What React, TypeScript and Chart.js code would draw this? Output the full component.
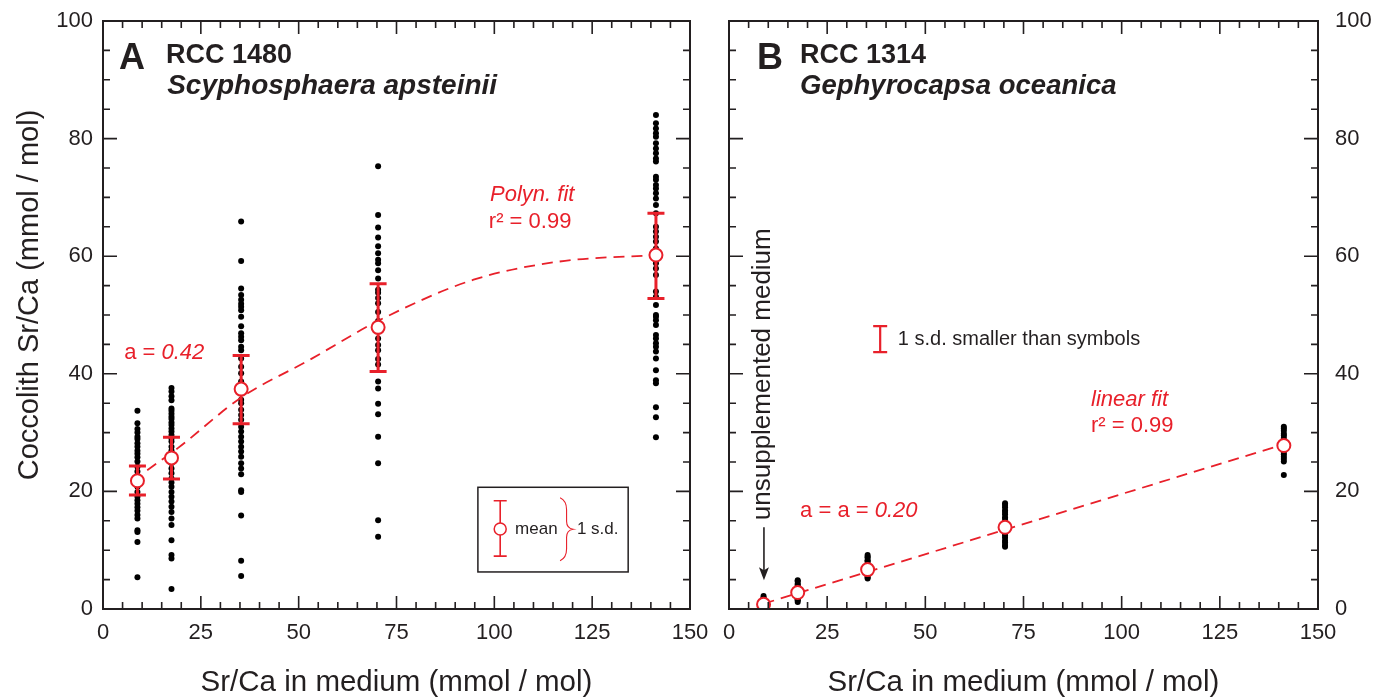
import React, { useEffect, useRef } from "react";
import { Chart, registerables } from "chart.js";

Chart.register(...registerables);

const FONT = '"Liberation Sans", Arial, Helvetica, sans-serif';
const RED = "#e8202a";
const INK = "#231f20";

// ---------- data ----------
const MEDIUM_SRCA = [8.8, 17.5, 35.3, 70.3, 141.3];

const X_TICKS = [0, 25, 50, 75, 100, 125, 150];
const Y_TICKS = [0, 20, 40, 60, 80, 100];
const X_MINOR_STEP = 5;
const Y_MINOR_STEP = 5;

// Panel A – RCC 1480 Scyphosphaera apsteinii
const A_COL1 = [33.7, 31.6, 30.6, 30.0, 29.3, 28.9, 28.2, 27.6, 26.9, 26.4, 25.8, 25.1, 24.2, 23.4, 22.6, 21.7, 20.8, 19.9, 19.1, 18.5, 17.9, 17.3, 16.7, 16.0, 15.4, 13.4, 13.1, 11.4, 5.4];
const A_COL2 = [37.6, 37.0, 36.2, 35.5, 34.1, 33.7, 33.2, 32.7, 32.3, 31.7, 31.3, 30.7, 30.2, 29.6, 29.0, 28.5, 27.6, 26.9, 26.2, 25.5, 24.8, 23.9, 23.1, 22.2, 21.5, 20.8, 19.9, 19.1, 18.3, 17.4, 16.5, 15.4, 14.3, 11.7, 9.2, 8.6, 3.4];
const A_COL3 = [65.9, 59.2, 54.5, 53.4, 52.6, 51.9, 51.4, 50.8, 49.7, 48.1, 46.9, 46.3, 45.7, 44.6, 44.0, 42.6, 41.2, 40.1, 38.7, 37.3, 35.6, 35.0, 33.9, 33.0, 32.2, 31.0, 30.2, 29.3, 28.5, 27.6, 26.8, 25.9, 24.8, 23.9, 22.9, 20.2, 19.9, 15.9, 8.2, 5.6];
const A_COL4 = [75.3, 67.0, 64.9, 63.2, 61.7, 60.5, 59.4, 58.8, 57.6, 56.2, 54.3, 53.8, 52.9, 52.0, 50.5, 49.0, 48.0, 46.0, 44.9, 44.0, 42.5, 41.6, 38.7, 37.5, 34.9, 33.1, 29.3, 24.8, 15.1, 12.3];
const A_COL5 = [84.0, 82.6, 81.7, 80.9, 80.3, 79.2, 78.3, 77.5, 76.6, 76.1, 73.5, 73.0, 72.1, 71.5, 70.7, 69.8, 68.7, 67.3, 65.0, 64.2, 63.3, 62.5, 61.3, 60.2, 58.8, 57.9, 56.8, 54.0, 53.1, 51.7, 50.0, 49.7, 49.1, 48.3, 46.6, 46.0, 45.2, 44.6, 43.8, 42.6, 40.6, 38.9, 38.4, 34.3, 32.6, 29.2];
const A_MEANS = [21.8, 25.7, 37.4, 47.9, 60.2];
const A_SD_LOW = [19.4, 22.1, 31.5, 40.4, 52.8];
const A_SD_HIGH = [24.3, 29.2, 43.1, 55.3, 67.3];
const A_FIT_X = [11.3, 19.2, 35.4, 52.6, 70.6, 94.7, 116.7, 141.3];
const A_FIT_Y = [23.6, 27.4, 36.0, 42.3, 49.1, 56.0, 59.1, 60.2];

// Panel B – RCC 1314 Gephyrocapsa oceanica
const B_COL1 = [2.2, 1.9, 1.8, 1.6, 1.4, 1.3, 1.1, 1.0, 0.9, 0.7, 0.6, 0.5, 0.4, 0.3, 0.2];
const B_COL2 = [4.9, 4.7, 4.3, 4.1, 3.8, 3.7, 3.4, 3.2, 3.1, 2.8, 2.6, 2.5, 2.2, 2.1, 1.8, 1.6, 1.5, 1.2];
const B_COL3 = [9.2, 8.9, 8.7, 8.3, 8.1, 7.7, 7.5, 7.1, 6.9, 6.6, 6.3, 5.9, 5.7, 5.4, 5.2];
const B_COL4 = [18.0, 17.7, 17.3, 16.8, 16.5, 16.1, 15.6, 15.3, 14.8, 14.5, 14.1, 13.6, 13.3, 12.8, 12.5, 12.1, 11.6, 11.3, 10.9, 10.6];
const B_COL5 = [31.0, 30.7, 30.3, 29.8, 29.5, 29.1, 28.6, 28.3, 27.9, 27.5, 27.1, 26.7, 26.3, 25.9, 25.5, 25.1, 22.8];
const B_MEANS = [0.8, 2.8, 6.7, 13.9, 27.8];
const B_FIT_X = [8.8, 141.3];
const B_FIT_Y = [0.9, 28.0];

// ---------- helpers ----------
type Pt = { x: number; y: number };
const cols = (columns: number[][]): Pt[] =>
  columns.flatMap((c, i) => c.map((y) => ({ x: MEDIUM_SRCA[i], y })));
const pairs = (xs: number[], ys: number[]): Pt[] => xs.map((x, i) => ({ x, y: ys[i] }));

function P(chart: any, vx: number, vy: number) {
  return { x: chart.scales.x.getPixelForValue(vx), y: chart.scales.y.getPixelForValue(vy) };
}

function txt(ctx: CanvasRenderingContext2D, s: string, x: number, y: number, font: string, color: string, align: CanvasTextAlign = "left", base: CanvasTextBaseline = "alphabetic") {
  ctx.font = font;
  ctx.fillStyle = color;
  ctx.textAlign = align;
  ctx.textBaseline = base;
  ctx.fillText(s, x, y);
}

function rich(ctx: CanvasRenderingContext2D, parts: [string, string][], x: number, y: number, color: string, base: CanvasTextBaseline = "middle") {
  let cx = x;
  for (const [s, f] of parts) {
    txt(ctx, s, cx, y, f, color, "left", base);
    cx += ctx.measureText(s).width;
  }
}

function errorBar(ctx: CanvasRenderingContext2D, x: number, y1: number, y2: number, half: number, lw: number) {
  ctx.strokeStyle = RED;
  ctx.lineWidth = lw;
  ctx.beginPath();
  ctx.moveTo(x, y1);
  ctx.lineTo(x, y2);
  ctx.moveTo(x - half, y1);
  ctx.lineTo(x + half, y1);
  ctx.moveTo(x - half, y2);
  ctx.lineTo(x + half, y2);
  ctx.stroke();
}

const framePlugin = {
  id: "frame",
  afterDraw(chart: any) {
    const { ctx, chartArea: a } = chart;
    const xs = chart.scales.x;
    const ys = chart.scales.y;
    ctx.save();
    ctx.strokeStyle = INK;
    ctx.lineWidth = 1.6;
    ctx.beginPath();
    for (let v = X_TICKS[0]; v <= X_TICKS[X_TICKS.length - 1]; v += X_MINOR_STEP) {
      const major = X_TICKS.includes(v);
      const len = major ? 13 : 7;
      const px = xs.getPixelForValue(v);
      ctx.moveTo(px, a.bottom);
      ctx.lineTo(px, a.bottom - len);
      ctx.moveTo(px, a.top);
      ctx.lineTo(px, a.top + len);
    }
    for (let v = Y_TICKS[0]; v <= Y_TICKS[Y_TICKS.length - 1]; v += Y_MINOR_STEP) {
      const major = Y_TICKS.includes(v);
      const len = major ? 14 : 7;
      const py = ys.getPixelForValue(v);
      ctx.moveTo(a.left, py);
      ctx.lineTo(a.left + len, py);
      ctx.moveTo(a.right, py);
      ctx.lineTo(a.right - len, py);
    }
    ctx.stroke();
    ctx.lineWidth = 2;
    ctx.strokeRect(a.left, a.top, a.right - a.left, a.bottom - a.top);
    ctx.restore();
  },
};

const errorBarPlugin = (low: number[] | null, high: number[] | null) => ({
  id: "errbars",
  afterDatasetDraw(chart: any, args: any) {
    if (args.index !== 1 || !low || !high) return;
    const ctx = chart.ctx;
    ctx.save();
    MEDIUM_SRCA.forEach((x, i) => {
      const p1 = P(chart, x, high[i]);
      const p2 = P(chart, x, low[i]);
      errorBar(ctx, p1.x, p1.y, p2.y, 8.5, 3);
    });
    ctx.restore();
  },
});

const R = (s: number) => `${s}px ${FONT}`;
const I = (s: number) => `italic ${s}px ${FONT}`;
const B = (s: number) => `bold ${s}px ${FONT}`;
const BI = (s: number) => `italic bold ${s}px ${FONT}`;

const annotA = {
  id: "annotA",
  afterDraw(chart: any) {
    const ctx = chart.ctx;
    const a = chart.chartArea;
    ctx.save();
    let p = P(chart, 4.1, 91.8);
    txt(ctx, "A", p.x, p.y, B(36), INK);
    p = P(chart, 16.1, 92.9);
    txt(ctx, "RCC 1480", p.x, p.y, B(27), INK);
    p = P(chart, 16.4, 87.6);
    txt(ctx, "Scyphosphaera apsteinii", p.x, p.y, BI(28), INK);

    p = P(chart, 5.4, 43.5);
    rich(ctx, [["a = ", R(22)], ["0.42", I(22)]], p.x, p.y, RED);
    p = P(chart, 98.9, 70.4);
    txt(ctx, "Polyn. fit", p.x, p.y, I(22), RED, "left", "middle");
    p = P(chart, 98.6, 65.8);
    txt(ctx, "r² = 0.99", p.x, p.y, R(22), RED, "left", "middle");

    // legend box
    const b1 = P(chart, 95.8, 20.7);
    const b2 = P(chart, 134.2, 6.3);
    ctx.strokeStyle = INK;
    ctx.lineWidth = 1.5;
    ctx.strokeRect(b1.x, b1.y, b2.x - b1.x, b2.y - b1.y);
    const c1 = P(chart, 101.5, 18.4);
    const c2 = P(chart, 101.5, 9.0);
    const cm = P(chart, 101.5, 13.6);
    errorBar(ctx, c1.x, c1.y, c2.y, 6.5, 1.6);
    ctx.beginPath();
    ctx.arc(cm.x, cm.y, 6, 0, Math.PI * 2);
    ctx.fillStyle = "#fff";
    ctx.fill();
    ctx.strokeStyle = RED;
    ctx.lineWidth = 1.5;
    ctx.stroke();
    p = P(chart, 105.3, 13.6);
    txt(ctx, "mean", p.x, p.y, R(17), INK, "left", "middle");
    // brace
    const t = P(chart, 116.8, 18.9);
    const bt = P(chart, 116.8, 8.2);
    const w = 13;
    const mid = (t.y + bt.y) / 2;
    ctx.beginPath();
    ctx.strokeStyle = RED;
    ctx.lineWidth = 1.1;
    ctx.moveTo(t.x, t.y);
    ctx.quadraticCurveTo(t.x + w * 0.5, t.y + 3, t.x + w * 0.5, t.y + 12);
    ctx.lineTo(t.x + w * 0.5, mid - 8);
    ctx.quadraticCurveTo(t.x + w * 0.5, mid - 1, t.x + w, mid);
    ctx.quadraticCurveTo(t.x + w * 0.5, mid + 1, t.x + w * 0.5, mid + 8);
    ctx.lineTo(t.x + w * 0.5, bt.y - 12);
    ctx.quadraticCurveTo(t.x + w * 0.5, bt.y - 3, t.x, bt.y);
    ctx.stroke();
    p = P(chart, 121.1, 13.6);
    txt(ctx, "1 s.d.", p.x, p.y, R(17), INK, "left", "middle");

    // axis titles
    txt(ctx, "Sr/Ca in medium (mmol / mol)", (a.left + a.right) / 2, 683, R(29.5), INK, "center", "middle");
    ctx.translate(30, 295);
    ctx.rotate(-Math.PI / 2);
    txt(ctx, "Coccolith Sr/Ca (mmol / mol)", 0, 0, R(29), INK, "center", "middle");
    ctx.restore();
  },
};

const annotB = {
  id: "annotB",
  afterDraw(chart: any) {
    const ctx = chart.ctx;
    const a = chart.chartArea;
    ctx.save();
    let p = P(chart, 7.1, 91.8);
    txt(ctx, "B", p.x, p.y, B(36), INK);
    p = P(chart, 18.1, 92.9);
    txt(ctx, "RCC 1314", p.x, p.y, B(27), INK);
    p = P(chart, 18.1, 87.6);
    txt(ctx, "Gephyrocapsa oceanica", p.x, p.y, BI(27.5), INK);

    p = P(chart, 18.1, 16.7);
    rich(ctx, [["a = a = ", R(22)], ["0.20", I(22)]], p.x, p.y, RED);
    p = P(chart, 92.2, 35.5);
    txt(ctx, "linear fit", p.x, p.y, I(22), RED, "left", "middle");
    p = P(chart, 92.2, 31.1);
    txt(ctx, "r² = 0.99", p.x, p.y, R(22), RED, "left", "middle");

    const e1 = P(chart, 38.5, 48.1);
    const e2 = P(chart, 38.5, 43.7);
    errorBar(ctx, e1.x, e1.y, e2.y, 7, 2.2);
    p = P(chart, 43.0, 45.9);
    txt(ctx, "1 s.d. smaller than symbols", p.x, p.y, R(20), INK, "left", "middle");

    // unsupplemented medium
    const u = P(chart, 8.6, 15.1);
    ctx.save();
    ctx.translate(u.x, u.y);
    ctx.rotate(-Math.PI / 2);
    txt(ctx, "unsupplemented medium", 0, 0, R(26), INK, "left", "middle");
    ctx.restore();
    const ar1 = P(chart, 8.9, 13.9);
    const ar2 = P(chart, 8.9, 4.9);
    ctx.strokeStyle = INK;
    ctx.lineWidth = 1.6;
    ctx.beginPath();
    ctx.moveTo(ar1.x, ar1.y);
    ctx.lineTo(ar2.x, ar2.y - 8);
    ctx.stroke();
    ctx.fillStyle = INK;
    ctx.beginPath();
    ctx.moveTo(ar2.x, ar2.y);
    ctx.lineTo(ar2.x - 5, ar2.y - 13);
    ctx.lineTo(ar2.x, ar2.y - 10);
    ctx.lineTo(ar2.x + 5, ar2.y - 13);
    ctx.closePath();
    ctx.fill();

    txt(ctx, "Sr/Ca in medium (mmol / mol)", (a.left + a.right) / 2, 683, R(29.5), INK, "center", "middle");
    ctx.restore();
  },
};

function makeConfig(opts: {
  dots: Pt[];
  means: Pt[];
  fit: Pt[];
  yPos: "left" | "right";
  yWidth: number;
  padding: { left: number; right: number; top: number; bottom: number };
  labelPad: number;
  plugins: any[];
}): any {
  return {
    type: "scatter",
    data: {
      datasets: [
        {
          label: "mean",
          data: opts.means,
          pointRadius: 6.5,
          pointBackgroundColor: "#ffffff",
          pointBorderColor: RED,
          pointBorderWidth: 2,
        },
        {
          type: "line",
          label: "fit",
          data: opts.fit,
          borderColor: RED,
          borderWidth: 1.8,
          borderDash: [11, 7],
          pointRadius: 0,
          fill: false,
          cubicInterpolationMode: "monotone",
        },
        {
          label: "samples",
          data: opts.dots,
          pointRadius: 3,
          pointBackgroundColor: "#000000",
          pointBorderWidth: 0,
        },
      ],
    },
    options: {
      animation: false,
      responsive: false,
      maintainAspectRatio: false,
      layout: { padding: opts.padding },
      plugins: { legend: { display: false }, tooltip: { enabled: false } },
      scales: {
        x: {
          type: "linear",
          min: X_TICKS[0],
          max: X_TICKS[X_TICKS.length - 1],
          afterBuildTicks: (s: any) => {
            s.ticks = X_TICKS.map((v) => ({ value: v }));
          },
          afterFit: (s: any) => {
            s.height = 89;
            s.paddingLeft = 0;
            s.paddingRight = 0;
          },
          ticks: { font: { family: FONT, size: 22 }, color: INK, padding: 11, maxRotation: 0, autoSkip: false },
          grid: { display: false, drawTicks: false },
          border: { display: false },
        },
        y: {
          type: "linear",
          position: opts.yPos,
          min: Y_TICKS[0],
          max: Y_TICKS[Y_TICKS.length - 1],
          afterBuildTicks: (s: any) => {
            s.ticks = Y_TICKS.map((v) => ({ value: v }));
          },
          afterFit: (s: any) => {
            s.width = opts.yWidth;
            s.paddingTop = 0;
            s.paddingBottom = 0;
          },
          ticks: { font: { family: FONT, size: 22 }, color: INK, padding: opts.labelPad, autoSkip: false },
          grid: { display: false, drawTicks: false },
          border: { display: false },
        },
      },
    },
    plugins: opts.plugins,
  };
}

export default function App() {
  const refA = useRef<HTMLCanvasElement>(null);
  const refB = useRef<HTMLCanvasElement>(null);

  useEffect(() => {
    const chartA = new Chart(
      refA.current as HTMLCanvasElement,
      makeConfig({
        dots: cols([A_COL1, A_COL2, A_COL3, A_COL4, A_COL5]),
        means: pairs(MEDIUM_SRCA, A_MEANS),
        fit: pairs(A_FIT_X, A_FIT_Y),
        yPos: "left",
        yWidth: 103,
        padding: { left: 0, right: 22, top: 21, bottom: 0 },
        labelPad: 10,
        plugins: [errorBarPlugin(A_SD_LOW, A_SD_HIGH), framePlugin, annotA],
      })
    );
    const chartB = new Chart(
      refB.current as HTMLCanvasElement,
      makeConfig({
        dots: cols([B_COL1, B_COL2, B_COL3, B_COL4, B_COL5]),
        means: pairs(MEDIUM_SRCA, B_MEANS),
        fit: pairs(B_FIT_X, B_FIT_Y),
        yPos: "right",
        yWidth: 64,
        padding: { left: 17, right: 0, top: 21, bottom: 0 },
        labelPad: 17,
        plugins: [errorBarPlugin(null, null), framePlugin, annotB],
      })
    );
    return () => {
      chartA.destroy();
      chartB.destroy();
    };
  }, []);

  return (
    <div style={{ position: "fixed", left: 0, top: 0, width: 1382, height: 698, background: "#fff", overflow: "hidden" }}>
      <canvas ref={refA} width={712} height={698} style={{ position: "absolute", left: 0, top: 0, width: 712, height: 698 }} />
      <canvas ref={refB} width={670} height={698} style={{ position: "absolute", left: 712, top: 0, width: 670, height: 698 }} />
    </div>
  );
}
